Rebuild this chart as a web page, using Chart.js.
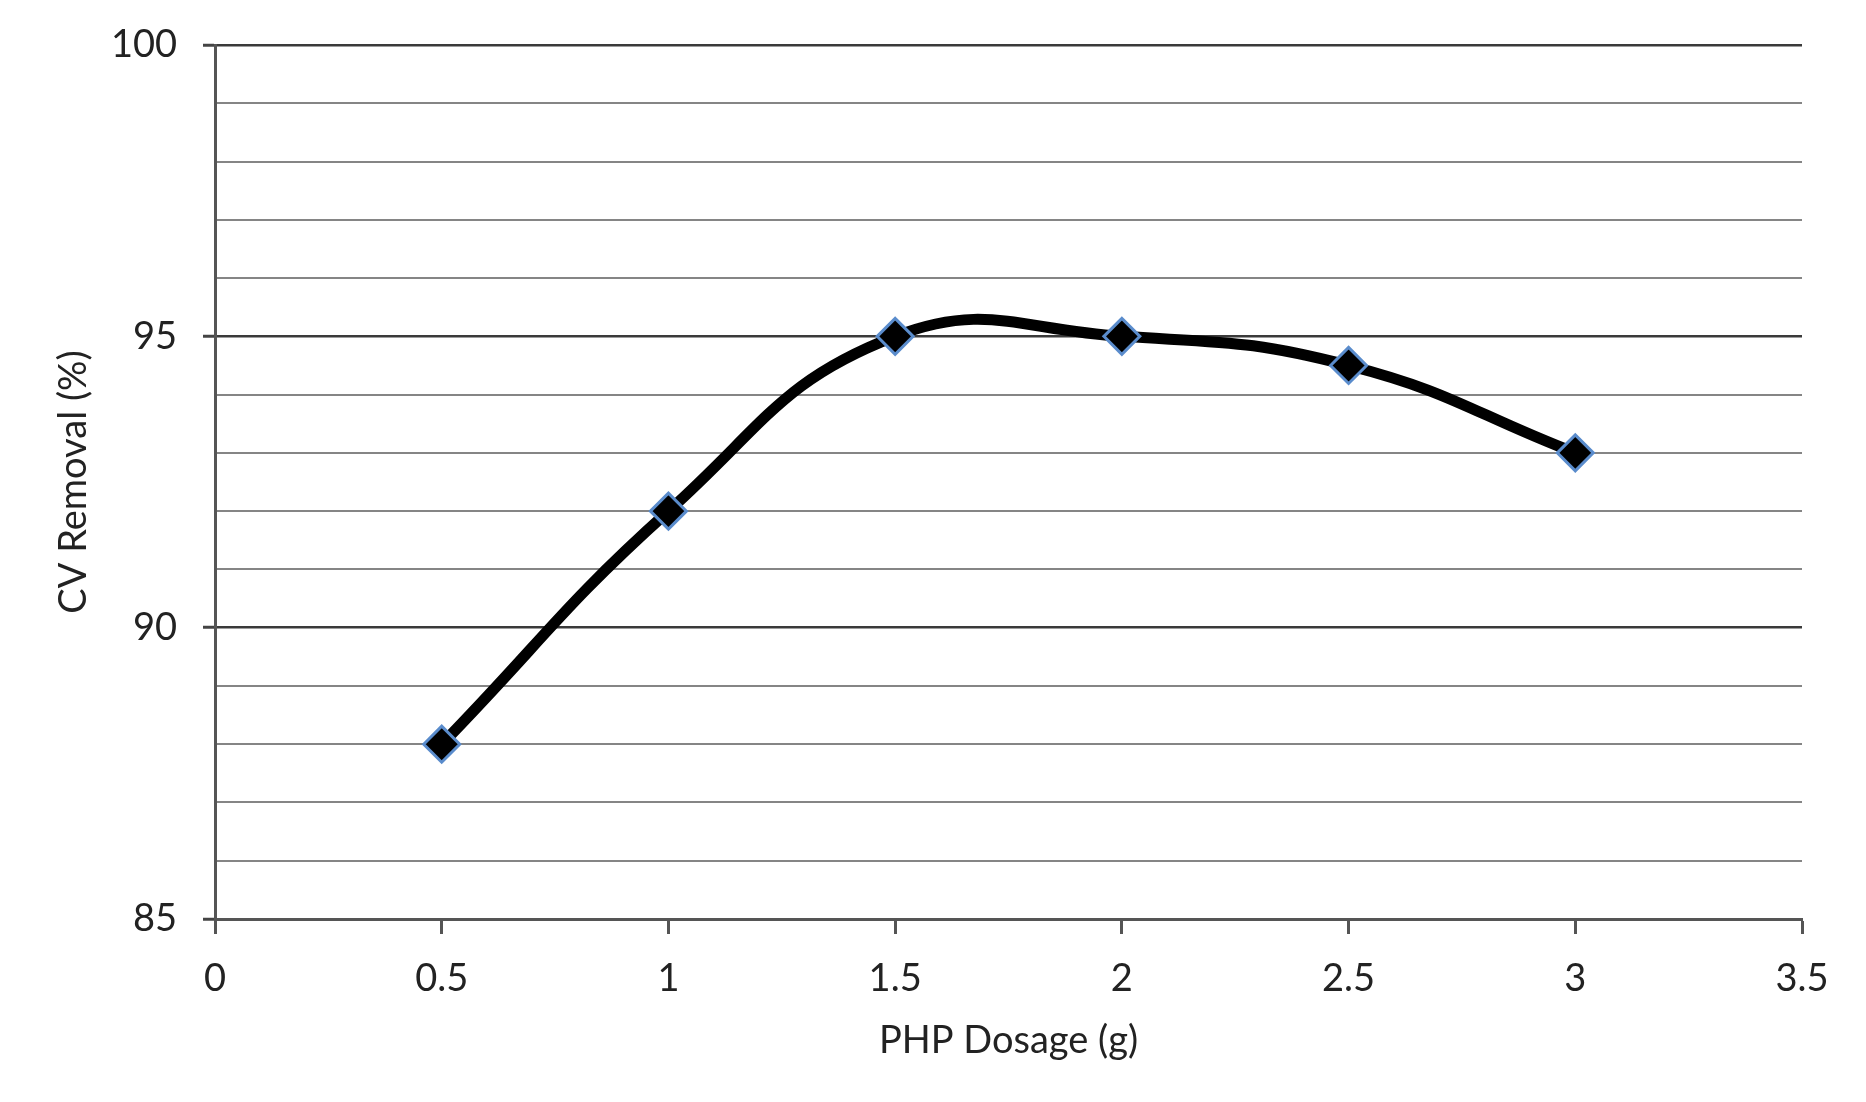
<!DOCTYPE html>
<html><head><meta charset="utf-8">
<script src="https://cdn.jsdelivr.net/npm/chart.js@4/dist/chart.umd.min.js"></script>
<style>html,body{margin:0;padding:0;background:#fff}#wrap{width:1866px;height:1102px}</style>
</head><body><div id="wrap"><canvas id="c" width="1866" height="1102"></canvas></div>
<script>
const dosage = [0.5, 1, 1.5, 2, 2.5, 3];
const removal = [88, 92, 95, 95, 94.5, 93];
const xTicks = [0, 0.5, 1, 1.5, 2, 2.5, 3, 3.5];
const yMajorTicks = [85, 90, 95, 100];
const xTitle = 'PHP Dosage (g)';
const yTitle = 'CV Removal (%)';

const FONT = 'Lato, "Open Sans", sans-serif';
new Chart(document.getElementById('c'), {
  type: 'scatter',
  data: { datasets: [{
    data: dosage.map((x, i) => ({x, y: removal[i]})),
    showLine: true,
    borderColor: '#000',
    borderWidth: 11,
    tension: 0.45,
    pointStyle: 'rectRot',
    pointRadius: 18,
    pointHoverRadius: 18,
    pointBackgroundColor: '#000',
    pointBorderColor: '#5a8ccc',
    pointBorderWidth: 3
  }]},
  options: {
    responsive: false,
    animation: false,
    devicePixelRatio: 1,
    layout: { padding: { top: 45, right: 64, left: 0, bottom: 0 } },
    plugins: { legend: { display: false }, tooltip: { enabled: false } },
    scales: {
      x: {
        type: 'linear', min: 0, max: 3.5,
        afterBuildTicks: s => { s.ticks = xTicks.map(v => ({value: v})); },
        afterFit: s => { s.height = 1102 - 919; s.paddingLeft = 0; s.paddingRight = 0; },
        ticks: { font: { family: FONT, size: 38 }, color: '#222', padding: 22, maxRotation: 0,
          callback: v => String(v) },
        grid: { drawOnChartArea: false, drawTicks: true, tickLength: 15, tickWidth: 3, tickColor: '#555' },
        border: { display: true, color: '#555', width: 3 },
        title: { display: true, text: xTitle, font: { family: FONT, size: 38 }, color: '#222', padding: { top: 0, bottom: 38 } }
      },
      y: {
        type: 'linear', min: 85, max: 100,
        ticks: { stepSize: 1, font: { family: FONT, size: 38 }, color: '#222', padding: 26,
          callback: v => yMajorTicks.includes(v) ? String(v) : '' },
        afterFit: s => { s.width = 215; s.paddingTop = 0; s.paddingBottom = 0; },
        grid: {
          color: c => (c.tick && c.tick.value % 5 === 0) ? '#3a3a3a' : '#858585',
          lineWidth: c => (c.tick && c.tick.value % 5 === 0) ? 2.5 : 2,
          tickLength: 12,
          tickColor: c => (c.tick && c.tick.value % 5 === 0) ? '#444' : 'rgba(0,0,0,0)',
          tickWidth: 3
        },
        border: { display: true, color: '#555', width: 3 },
        title: { display: true, text: yTitle, font: { family: FONT, size: 38 }, color: '#222', padding: { top: 51, bottom: 0 } }
      }
    }
  }
});
</script></body></html>
